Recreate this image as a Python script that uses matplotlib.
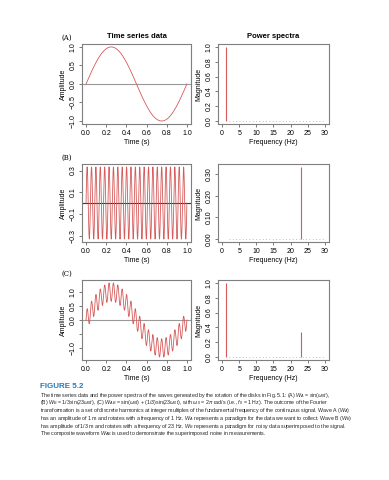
import numpy as np
import matplotlib
matplotlib.use("Agg")
import matplotlib.pyplot as plt

# wave parameters from the caption
freq_a = 1.0        # Hz
amp_a = 1.0
freq_b = 23.0       # Hz
amp_b = 1.0 / 3.0

# spectra: frequency (Hz) and magnitude for each panel
spec_a_freq = [1]
spec_a_mag = [1.0]
spec_b_freq = [23]
spec_b_mag = [1.0 / 3.0]
spec_c_freq = [1, 23]
spec_c_mag = [1.0, 1.0 / 3.0]

panel_labels = ["(A)", "(B)", "(C)"]

caption_lines = [
    r"The time series data and the power spectra of the waves generated by the rotation of the disks in Fig. 5.1: (A) $W_A$ = sin($\omega_0 t$),",
    r"(B) $W_B$ = 1/3sin(23$\omega_0 t$), (C) $W_{AB}$ = sin($\omega_0 t$) + (1/3)sin(23$\omega_0 t$), with $\omega_0$ = 2$\pi$ rad/s (i.e., $f_0$ = 1 Hz). The outcome of the Fourier",
    r"transformation is a set of discrete harmonics at integer multiples of the fundamental frequency of the continuous signal. Wave A ($W_A$)",
    r"has an amplitude of 1 m and rotates with a frequency of 1 Hz. $W_A$ represents a paradigm for the data we want to collect. Wave B ($W_B$)",
    r"has amplitude of 1/3 m and rotates with a frequency of 23 Hz. $W_B$ represents a paradigm for noisy data superimposed to the signal.",
    r"The composite waveform $W_{AB}$ is used to demonstrate the superimposed noise in measurements.",
]

plt.rcParams["font.family"] = ["Liberation Sans", "DejaVu Sans"]
plt.rcParams["mathtext.fontset"] = "custom"
plt.rcParams["mathtext.it"] = "Liberation Sans:italic"
plt.rcParams["mathtext.rm"] = "Liberation Sans"

RED = "#d65a5a"
FRAME = "#7f7f7f"
FS = 5.0

t = np.linspace(0, 1, 1001)
wave_a = amp_a * np.sin(2 * np.pi * freq_a * t)
wave_b = amp_b * np.sin(2 * np.pi * freq_b * t)
wave_c = wave_a + wave_b

fig = plt.figure(figsize=(3.89, 4.8), dpi=100)

rows = [0.7417, 0.4958, 0.25]
heights = [0.1667, 0.1625, 0.1667]


def style(ax):
    for s in ax.spines.values():
        s.set_color(FRAME)
        s.set_linewidth(0.8)
    ax.tick_params(labelsize=FS, length=2.5, width=0.5, color="#444444", pad=1.5)
    for lab in ax.get_yticklabels():
        lab.set_rotation(90)
        lab.set_va("center")


waves = [wave_a, wave_b, wave_c]
specs = [(spec_a_freq, spec_a_mag), (spec_b_freq, spec_b_mag), (spec_c_freq, spec_c_mag)]
yticks_left = [[-1.0, -0.5, 0.0, 0.5, 1.0], [-0.3, -0.1, 0.1, 0.3], [-1.0, -0.5, 0.0, 0.5, 1.0]]
ylabels_left = [["\u22121.0", "\u22120.5", "0.0", "0.5", "1.0"],
                ["\u22120.3", "\u22120.1", "0.1", "0.3"],
                ["\u22121.0", "", "0.0", "0.5", "1.0"]]
yticks_right = [[0.0, 0.2, 0.4, 0.6, 0.8, 1.0], [0.0, 0.1, 0.2, 0.3], [0.0, 0.2, 0.4, 0.6, 0.8, 1.0]]
yfmt_right = ["%.1f", "%.2f", "%.1f"]
zero_colors = ["#999999", "#333333", "#999999"]

for i in range(3):
    axl = fig.add_axes([0.2108, rows[i], 0.280, heights[i]])
    w = waves[i]
    axl.axhline(0, color=zero_colors[i], lw=0.8, zorder=1)
    axl.plot(t, w, color=RED, lw=0.6, zorder=2)
    pad = 0.04 * (w.max() - w.min())
    axl.set_ylim(w.min() - pad, w.max() + pad)
    axl.set_xlim(-0.04, 1.04)
    axl.set_xticks([0.0, 0.2, 0.4, 0.6, 0.8, 1.0])
    axl.set_xticklabels(["0.0", "0.2", "0.4", "0.6", "0.8", "1.0"])
    axl.set_yticks(yticks_left[i])
    axl.set_yticklabels(ylabels_left[i])
    axl.set_xlabel("Time (s)", fontsize=FS, labelpad=2)
    axl.set_ylabel("Amplitude", fontsize=FS, labelpad=2)
    style(axl)
    fig.text(0.172, rows[i] + heights[i] + 0.012, panel_labels[i],
             fontsize=FS, family="DejaVu Serif", ha="center", va="center")

    axr = fig.add_axes([0.5604, rows[i], 0.2853, heights[i]])
    fr, mg = specs[i]
    axr.vlines(fr, 0, mg, color=RED, lw=0.8, zorder=2)
    axr.plot([2, 30], [0, 0], color="#aaaaaa", lw=0.6, ls=(0, (1, 3)), zorder=1)
    top = max(mg)
    axr.set_ylim(-0.04 * top, 1.04 * top)
    axr.set_xlim(-1.2, 31.2)
    axr.set_xticks([0, 5, 10, 15, 20, 25, 30])
    axr.set_yticks(yticks_right[i])
    axr.set_yticklabels([yfmt_right[i] % v for v in yticks_right[i]])
    axr.set_xlabel("Frequency (Hz)", fontsize=FS, labelpad=2)
    axr.set_ylabel("Magnitude", fontsize=FS, labelpad=2)
    style(axr)

    if i == 0:
        axl.set_title("Time series data", fontsize=5.5, fontweight="bold", pad=4)
        axr.set_title("Power spectra", fontsize=5.5, fontweight="bold", pad=4)

# caption: shrink font so the longest line spans about 312 px like the reference
fig.text(40 / 389, 1 - 386 / 480, "FIGURE 5.2", fontsize=5.8, fontweight="bold",
         color="#2a7ab8", ha="left", va="center")
cap_texts = []
for k, line in enumerate(caption_lines):
    cap_texts.append(fig.text(40 / 389, 1 - (395 + k * 7.8) / 480, line, fontsize=4.5,
                              color="#222222", ha="left", va="center"))
renderer = fig.canvas.get_renderer()
widest = max(tx.get_window_extent(renderer).width for tx in cap_texts)
new_fs = 4.5 * 314 / widest
for tx in cap_texts:
    tx.set_fontsize(new_fs)

fig.savefig("out.png", dpi=100)
